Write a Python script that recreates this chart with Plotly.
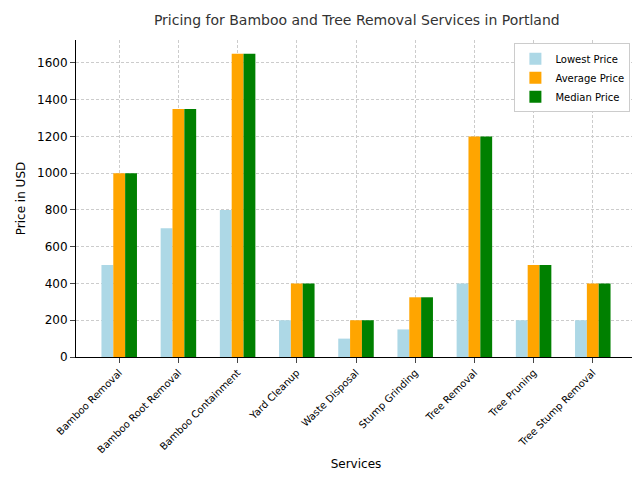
import plotly.graph_objects as go

services = ["Bamboo Removal", "Bamboo Root Removal", "Bamboo Containment", "Yard Cleanup",
            "Waste Disposal", "Stump Grinding", "Tree Removal", "Tree Pruning", "Tree Stump Removal"]
lowest = [500, 700, 800, 200, 100, 150, 400, 200, 200]
average = [1000, 1350, 1650, 400, 200, 325, 1200, 500, 400]
median = [1000, 1350, 1650, 400, 200, 325, 1200, 500, 400]

fig = go.Figure()
for name, vals, col in [("Lowest Price", lowest, "lightblue"),
                        ("Average Price", average, "orange"),
                        ("Median Price", median, "green")]:
    fig.add_bar(x=list(range(len(services))), y=vals, name=name, marker_color=col, marker_line_width=0)

fig.update_layout(
    width=640, height=480, barmode="group", bargap=0.4, bargroupgap=0,
    plot_bgcolor="white", paper_bgcolor="white",
    font=dict(family="DejaVu Sans", size=11, color="black"),
    title=dict(text="Pricing for Bamboo and Tree Removal Services in Portland", x=0.545, xanchor="center",
               y=0.985, yanchor="top", font=dict(size=14, color="#333")),
    margin=dict(l=68, r=12, t=32, b=131),
    legend=dict(x=0.99, y=0.99, xanchor="right", yanchor="top", bgcolor="white",
                bordercolor="#ccc", borderwidth=1, font=dict(size=10), tracegroupgap=0,
                itemwidth=30),
    xaxis=dict(tickmode="array", tickvals=list(range(len(services))), ticktext=services,
               tickangle=-45, range=[-0.73, 8.73], showgrid=True, griddash="3px,2px",
               gridcolor="#ccc", gridwidth=0.5, ticks="outside", showline=True, linecolor="black",
               automargin=False, title=dict(text="Services", font=dict(size=12), standoff=5),
               tickfont=dict(size=10)),
    yaxis=dict(range=[0, 1725], dtick=200, showgrid=True, griddash="3px,2px", gridcolor="#ccc",
               gridwidth=0.5, ticks="outside", showline=True, linecolor="black", zeroline=False,
               automargin=False, title=dict(text="Price in USD", font=dict(size=12), standoff=8),
               tickfont=dict(size=12)),
)
fig.write_html("out.html")
